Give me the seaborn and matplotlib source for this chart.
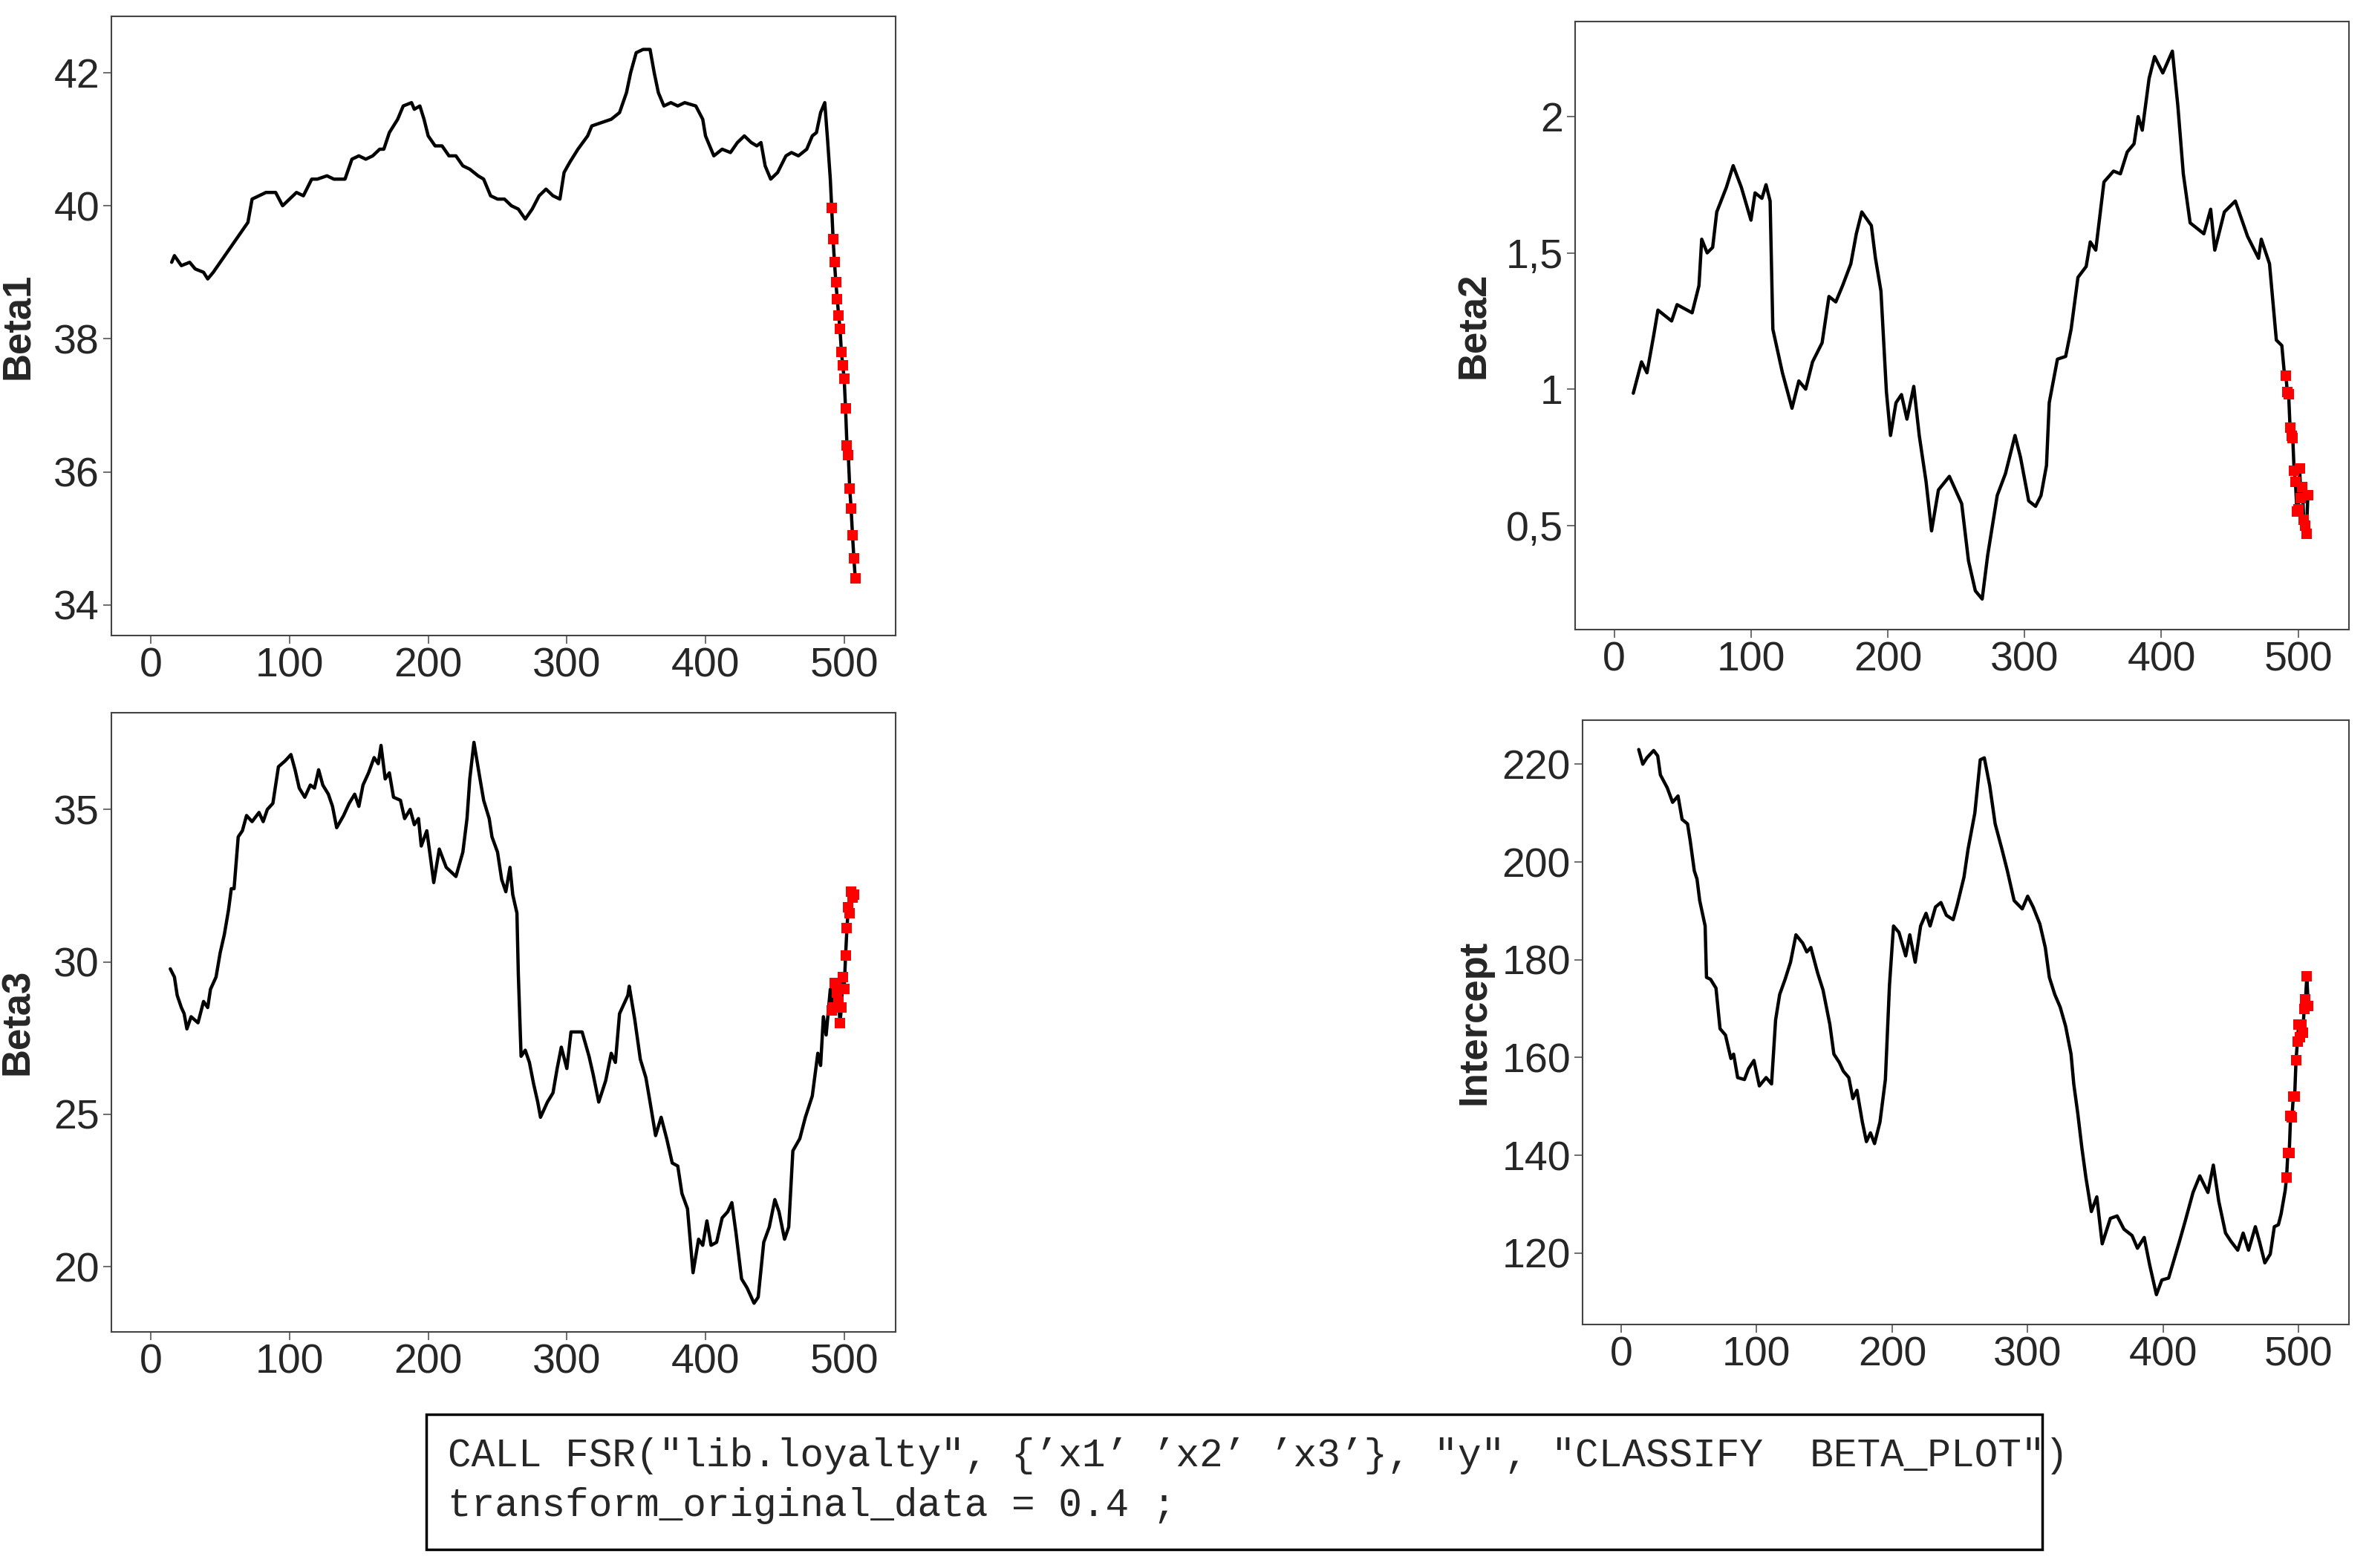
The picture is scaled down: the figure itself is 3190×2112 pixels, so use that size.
import matplotlib
matplotlib.use("Agg")
import matplotlib.pyplot as plt
import matplotlib.patches as mpatches
from matplotlib.ticker import FuncFormatter
import seaborn as sns
import pandas as pd

# --- valores (linha preta + pontos vermelhos no final) ---
beta1_x = [15, 17, 22, 28, 32, 38, 41, 45, 50, 55, 60, 65, 70, 73, 78, 83, 90, 95, 100, 105, 110, 116, 120, 127,
           132, 140, 145, 150, 155, 160, 165, 168, 172, 178, 182, 188, 190, 194, 197, 200, 205, 210, 215, 220, 225,
           230, 236, 240, 245, 250, 255, 260, 265, 270, 275, 280, 285, 290, 295, 298, 302, 308, 315, 318, 325, 332,
           338, 343, 346, 350, 355, 360, 363, 366, 370, 375, 380, 385, 393, 398, 400, 403, 406, 412, 418, 423, 428,
           433, 437, 440, 443, 447, 452, 458, 462, 467, 470, 473, 477, 480, 483, 486, 488, 490]
beta1_y = [39.15, 39.25, 39.1, 39.15, 39.05, 39.0, 38.9, 39.0, 39.15, 39.3, 39.45, 39.6, 39.75, 40.1, 40.15, 40.2,
           40.2, 40.0, 40.1, 40.2, 40.15, 40.4, 40.4, 40.45, 40.4, 40.4, 40.7, 40.75, 40.7, 40.75, 40.85, 40.85, 41.1,
           41.3, 41.5, 41.55, 41.45, 41.5, 41.3, 41.05, 40.9, 40.9, 40.75, 40.75, 40.6, 40.55, 40.45, 40.4, 40.15,
           40.1, 40.1, 40.0, 39.95, 39.8, 39.95, 40.15, 40.25, 40.15, 40.1, 40.5, 40.65, 40.85, 41.05, 41.2, 41.25,
           41.3, 41.4, 41.7, 42.0, 42.3, 42.35, 42.35, 42.0, 41.7, 41.5, 41.55, 41.5, 41.55, 41.5, 41.3, 41.05, 40.9,
           40.75, 40.85, 40.8, 40.95, 41.05, 40.95, 40.9, 40.95, 40.6, 40.4, 40.5, 40.75, 40.8, 40.75, 40.8, 40.85,
           41.05, 41.1, 41.4, 41.55, 41.0, 40.4]
beta1_rx = [491, 492, 493, 494, 495, 496, 497, 498, 499, 500, 501, 502, 503, 504, 505, 506, 507, 508]
beta1_ry = [39.97, 39.5, 39.15, 38.85, 38.6, 38.35, 38.15, 37.8, 37.6, 37.4, 36.95, 36.4, 36.25, 35.75, 35.45,
            35.05, 34.7, 34.4]

beta2_x = [14, 20, 24, 29, 32, 42, 46, 57, 62, 64, 68, 72, 75, 82, 87, 93, 100, 103, 108, 111, 114, 116, 123, 130,
           135, 140, 145, 152, 157, 162, 167, 173, 177, 181, 188, 191, 195, 199, 202, 206, 210, 214, 219, 223, 228,
           232, 237, 245, 254, 259, 264, 269, 273, 280, 286, 293, 297, 303, 308, 312, 316, 318, 324, 330, 334, 339,
           345, 348, 352, 358, 365, 370, 375, 380, 383, 386, 391, 395, 401, 408, 412, 416, 421, 431, 436, 439, 446,
           454, 463, 471, 473, 479, 484, 488, 490]
beta2_y = [0.985, 1.1, 1.06, 1.2, 1.29, 1.25, 1.31, 1.28, 1.38, 1.55, 1.5, 1.52, 1.65, 1.74, 1.82, 1.74, 1.62,
           1.72, 1.7, 1.75, 1.69, 1.22, 1.06, 0.93, 1.03, 1.0, 1.1, 1.17, 1.34, 1.32, 1.38, 1.46, 1.57, 1.65, 1.6,
           1.48, 1.36, 0.99, 0.83, 0.95, 0.98, 0.89, 1.01, 0.83, 0.66, 0.48, 0.63, 0.68, 0.58, 0.37, 0.26, 0.23, 0.39,
           0.61, 0.69, 0.83, 0.75, 0.59, 0.57, 0.61, 0.72, 0.95, 1.11, 1.12, 1.22, 1.41, 1.45, 1.54, 1.51, 1.76, 1.8,
           1.79, 1.87, 1.9, 2.0, 1.95, 2.14, 2.22, 2.16, 2.24, 2.04, 1.79, 1.61, 1.57, 1.66, 1.51, 1.65, 1.69, 1.56,
           1.48, 1.55, 1.46, 1.18, 1.16, 1.05]
beta2_rx = [491, 492, 493, 494, 495, 496, 497, 498, 499, 500, 501, 502, 503, 504, 505, 506, 507]
beta2_ry = [1.05, 0.99, 0.98, 0.86, 0.83, 0.82, 0.7, 0.66, 0.55, 0.56, 0.71, 0.6, 0.64, 0.52, 0.5, 0.47, 0.61]

beta3_x = [14, 17, 19, 22, 24, 26, 29, 34, 38, 41, 43, 47, 50, 53, 56, 58, 60, 63, 66, 69, 73, 78, 81, 84, 88, 92,
           97, 101, 104, 107, 111, 115, 118, 121, 124, 128, 131, 134, 139, 143, 147, 150, 153, 157, 161, 164, 166,
           169, 172, 175, 180, 183, 187, 190, 193, 195, 199, 202, 204, 208, 213, 220, 225, 228, 230, 233, 237, 240,
           244, 246, 250, 253, 256, 259, 261, 264, 265, 267, 270, 273, 276, 279, 281, 286, 290, 293, 296, 300, 303,
           307, 311, 316, 319, 323, 328, 332, 335, 338, 344, 345, 349, 353, 357, 360, 364, 368, 372, 376, 380, 383,
           387, 391, 395, 398, 401, 404, 408, 412, 416, 419, 422, 426, 430, 435, 438, 442, 446, 450, 453, 457, 460,
           463, 468, 472, 477, 481, 483, 485, 487, 490]
beta3_y = [29.77, 29.5, 28.9, 28.5, 28.3, 27.8, 28.2, 28.0, 28.7, 28.5, 29.1, 29.5, 30.3, 30.9, 31.7, 32.4, 32.4,
           34.1, 34.3, 34.8, 34.6, 34.9, 34.6, 35.0, 35.2, 36.4, 36.6, 36.8, 36.3, 35.7, 35.4, 35.8, 35.7, 36.3, 35.8,
           35.5, 35.1, 34.4, 34.8, 35.2, 35.5, 35.1, 35.8, 36.2, 36.7, 36.5, 37.1, 36.0, 36.2, 35.4, 35.3, 34.7, 35.0,
           34.5, 34.7, 33.8, 34.3, 33.3, 32.6, 33.7, 33.1, 32.8, 33.6, 34.7, 36.0, 37.2, 36.1, 35.3, 34.7, 34.1, 33.6,
           32.7, 32.3, 33.1, 32.2, 31.6, 29.6, 26.9, 27.1, 26.7, 26.0, 25.4, 24.9, 25.4, 25.7, 26.5, 27.2, 26.5, 27.7,
           27.7, 27.7, 26.9, 26.3, 25.4, 26.1, 27.0, 26.7, 28.3, 28.9, 29.2, 28.1, 26.8, 26.2, 25.4, 24.3, 24.9, 24.2,
           23.4, 23.3, 22.4, 21.9, 19.8, 20.9, 20.7, 21.5, 20.7, 20.8, 21.6, 21.8, 22.1, 21.1, 19.6, 19.3, 18.8, 19.0,
           20.8, 21.3, 22.2, 21.8, 20.9, 21.3, 23.8, 24.2, 24.9, 25.6, 27.0, 26.6, 28.2, 27.6, 29.1]
beta3_rx = [491, 492, 493, 494, 495, 496, 497, 498, 499, 500, 501, 502, 503, 504, 505, 506, 507]
beta3_ry = [28.4, 28.5, 29.3, 29.3, 29.0, 28.7, 28.0, 28.5, 29.5, 29.1, 30.2, 31.1, 31.8, 31.6, 32.3, 32.1, 32.2]

inter_x = [13, 16, 19, 24, 27, 29, 34, 38, 42, 45, 49, 51, 54, 56, 58, 62, 63, 66, 70, 73, 77, 81, 83, 86, 91, 94,
           98, 102, 107, 111, 114, 117, 121, 125, 129, 134, 137, 140, 145, 149, 154, 157, 161, 164, 168, 171, 174,
           178, 181, 184, 187, 191, 195, 198, 201, 205, 210, 213, 217, 221, 225, 228, 232, 236, 240, 245, 248, 253,
           256, 261, 265, 268, 272, 276, 281, 285, 290, 296, 300, 304, 309, 313, 316, 320, 324, 328, 332, 334, 337,
           340, 343, 347, 351, 355, 361, 366, 371, 377, 381, 386, 390, 395, 399, 404, 412, 416, 422, 427, 433, 437,
           441, 446, 450, 455, 459, 463, 468, 471, 475, 479, 482, 485, 487, 490]
inter_y = [223, 220, 221.3, 222.8, 221.7, 217.8, 215.2, 212.2, 213.5, 208.7, 207.8, 204.3, 198.2, 196.5, 192.1,
           186.9, 176.4, 176.0, 174.2, 165.9, 164.6, 159.8, 160.7, 155.9, 155.5, 157.7, 159.4, 154.2, 155.9, 154.6,
           167.7, 172.9, 176.0, 179.5, 185.1, 183.4, 181.6, 182.5, 177.3, 173.8, 166.8, 160.7, 159.0, 157.2, 155.9,
           151.6, 153.3, 146.8, 142.8, 144.6, 142.4, 146.8, 155.5, 174.7, 186.9, 185.6, 180.8, 185.1, 179.5, 186.9,
           189.5, 186.9, 190.8, 191.7, 189.1, 188.2, 191.2, 196.9, 202.6, 210.0, 220.9, 221.3, 215.6, 207.8, 202.6,
           198.2, 192.1, 190.4, 193.0, 190.8, 187.3, 182.5, 176.4, 172.9, 170.3, 166.4, 160.7, 154.6, 148.5, 141.5,
           135.4, 128.5, 131.5, 121.9, 127.1, 127.6, 124.9, 123.6, 121.0, 123.2, 117.6, 111.5, 114.5, 114.9, 122.4,
           126.3, 132.4, 135.8, 132.4, 138.0, 130.6, 124.1, 122.4, 120.6, 124.1, 120.6, 125.4, 122.4, 118.0, 119.8,
           125.4, 125.8, 128.0, 132.8]
inter_rx = [491, 492, 493, 494, 495, 496, 497, 498, 499, 500, 501, 502, 503, 504, 505, 506, 507]
inter_ry = [135.4, 140.5, 140.5, 148.1, 147.7, 152.0, 152.0, 159.4, 163.2, 166.8, 164.2, 166.8, 165.1, 169.9,
            171.9, 176.6, 170.5]

sns.set_style("white")
plt.rcParams['font.family'] = ['Liberation Sans Narrow', 'Liberation Sans', 'DejaVu Sans']

fig = plt.figure(figsize=(31.9, 21.12), dpi=100)

panels = [
    ("Beta1", beta1_x, beta1_y, beta1_rx, beta1_ry, [0.047, 0.5947, 0.331, 0.395], (33.54, 42.85), [34, 36, 38, 40, 42], -0.096),
    ("Beta2", beta2_x, beta2_y, beta2_rx, beta2_ry, [0.6649, 0.5985, 0.3266, 0.388], (0.118, 2.35), [0.5, 1, 1.5, 2], -0.107),
    ("Beta3", beta3_x, beta3_y, beta3_rx, beta3_ry, [0.047, 0.1506, 0.331, 0.395], (17.86, 38.18), [20, 25, 30, 35], -0.096),
    ("Intercept", inter_x, inter_y, inter_rx, inter_ry, [0.668, 0.1553, 0.3235, 0.3854], (105.4, 229.0), [120, 140, 160, 180, 200, 220], -0.117),
]

comma = FuncFormatter(lambda v, p: f"{v:g}".replace(".", ","))

for name, x, y, rx, ry, pos, ylim, yticks, labx in panels:
    ax = fig.add_axes(pos)
    df = pd.DataFrame({"t": x + rx, "v": y + ry})
    sns.lineplot(data=df, x="t", y="v", ax=ax, color="black", linewidth=3.2)
    sns.scatterplot(x=rx, y=ry, ax=ax, color="red", marker="s", s=110, edgecolor="red", linewidth=0, zorder=3)
    ax.set_xlim(-28.5, 537)
    ax.set_ylim(*ylim)
    ax.set_xticks([0, 100, 200, 300, 400, 500])
    ax.set_yticks(yticks)
    ax.yaxis.set_major_formatter(comma)
    ax.tick_params(axis="both", labelsize=40, length=8, width=1.2, color="#555555", direction="out",
                   left=True, bottom=True)
    for s in ax.spines.values():
        s.set_color("#444444")
        s.set_linewidth(1.5)
    ax.set_xlabel("")
    ax.set_ylabel(name, fontsize=38, fontweight="bold", family="Liberation Sans")
    ax.yaxis.set_label_coords(labx, 0.5)

# caixa de texto com o comando
fig.patches.append(mpatches.Rectangle((0.180, 0.012), 0.682, 0.086, transform=fig.transFigure,
                                      fill=False, edgecolor="black", linewidth=2.5))
fig.text(0.189, 0.0715, "CALL FSR(\"lib.loyalty\", {\u2019x1\u2019 \u2019x2\u2019 \u2019x3\u2019}, \"y\", \"CLASSIFY  BETA_PLOT\")",
         fontsize=38, family="Liberation Mono", va="center", ha="left")
fig.text(0.189, 0.0398, "transform_original_data = 0.4 ;",
         fontsize=38, family="Liberation Mono", va="center", ha="left")

plt.savefig("out.png", dpi=100)
plt.close()
